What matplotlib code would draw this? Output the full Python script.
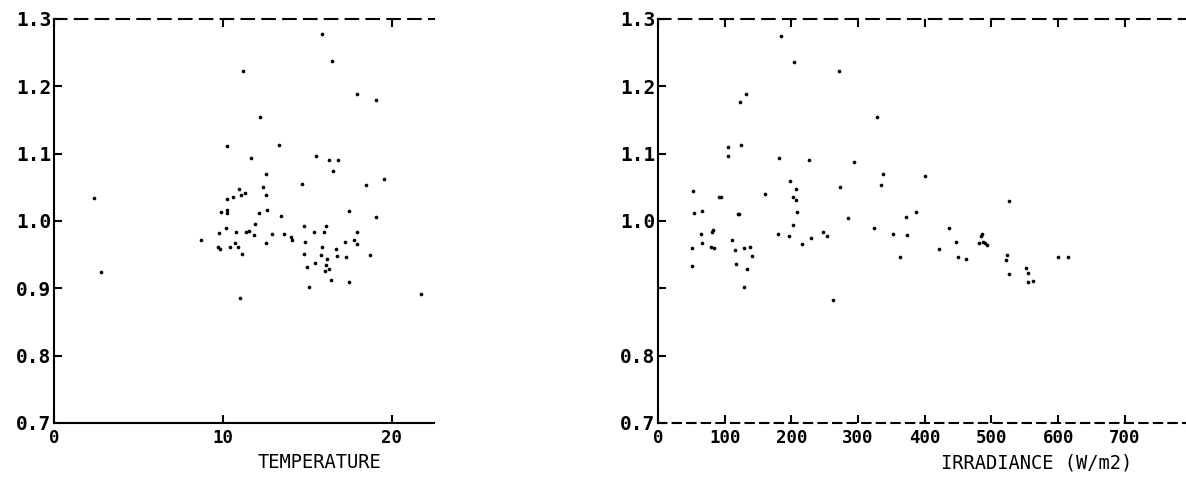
import matplotlib
matplotlib.use("Agg")
import matplotlib.pyplot as plt

# ratio vs temperature (left panel)
temperature = [15.86, 16.45, 11.18, 17.93, 19.05, 12.19, 10.24, 13.31, 2.37, 2.78, 21.72,
               11.67, 15.50, 16.29, 16.79, 16.55, 12.56, 14.69, 18.48, 19.57, 12.38,
               10.96, 12.53, 11.32, 11.08, 10.59, 10.22, 9.92, 10.24, 10.25, 12.13,
               12.60, 13.47, 17.46, 19.09, 11.93, 10.20, 9.75, 10.75, 11.40, 11.54,
               11.83, 12.92, 13.63, 14.02, 14.12, 14.78, 15.37, 15.96, 16.11, 17.95,
               17.24, 17.75, 17.93, 8.72, 9.72, 9.86, 10.43, 10.73, 10.87, 12.56,
               11.11, 14.85, 14.81, 15.86, 15.80, 16.14, 16.70, 16.73, 17.32, 18.74,
               15.48, 14.99, 16.08, 16.31, 16.04, 16.39, 17.44, 15.11, 10.99]
ratio_t = [1.277, 1.237, 1.223, 1.189, 1.179, 1.155, 1.112, 1.113, 1.034, 0.924, 0.892,
           1.094, 1.097, 1.090, 1.091, 1.074, 1.070, 1.055, 1.053, 1.062, 1.050,
           1.047, 1.038, 1.041, 1.038, 1.036, 1.032, 1.014, 1.016, 1.012, 1.012,
           1.017, 1.007, 1.015, 1.006, 0.996, 0.989, 0.982, 0.984, 0.983, 0.985,
           0.979, 0.980, 0.980, 0.976, 0.971, 0.992, 0.983, 0.983, 0.992, 0.983,
           0.969, 0.971, 0.966, 0.972, 0.961, 0.958, 0.962, 0.968, 0.961, 0.967,
           0.951, 0.969, 0.951, 0.961, 0.950, 0.944, 0.959, 0.948, 0.946, 0.949,
           0.937, 0.932, 0.934, 0.929, 0.925, 0.913, 0.910, 0.902, 0.886]

# ratio vs irradiance (right panel)
irradiance = [184.0, 204.3, 271.8, 131.9, 122.9, 328.8, 105.4, 124.0,
              105.4, 181.9, 226.4, 293.4, 337.3, 400.3, 52.0, 91.9, 94.9, 160.9,
              197.9, 206.4, 201.9, 206.4, 208.8, 273.3, 334.8, 525.8, 54.4, 66.4,
              119.5, 121.9, 201.9, 285.3, 371.8, 386.8, 64.9, 66.4, 81.4, 82.9,
              51.0, 79.0, 84.0, 110.9, 115.0, 128.5, 138.4, 140.9, 116.5, 133.0,
              128.9, 51.0, 180.4, 196.0, 215.9, 229.4, 247.8, 253.8, 262.8, 323.4,
              351.9, 372.9, 362.4, 421.3, 436.3, 447.2, 450.2, 462.2, 483.8, 485.8,
              481.7, 486.8, 490.3, 493.7, 522.8, 521.7, 525.8, 551.7, 554.3, 554.3,
              562.2, 600.1, 615.1]
ratio_i = [1.275, 1.236, 1.222, 1.188, 1.177, 1.154, 1.110, 1.113,
           1.096, 1.093, 1.090, 1.087, 1.070, 1.067, 1.045, 1.035, 1.036, 1.040,
           1.060, 1.048, 1.036, 1.031, 1.014, 1.051, 1.053, 1.030, 1.012, 1.015,
           1.011, 1.010, 0.994, 1.004, 1.006, 1.014, 0.980, 0.968, 0.983, 0.986,
           0.960, 0.961, 0.960, 0.971, 0.957, 0.960, 0.962, 0.948, 0.936, 0.928,
           0.902, 0.933, 0.981, 0.978, 0.966, 0.975, 0.984, 0.977, 0.882, 0.990,
           0.980, 0.979, 0.947, 0.958, 0.990, 0.969, 0.946, 0.944, 0.978, 0.980,
           0.968, 0.969, 0.967, 0.964, 0.949, 0.942, 0.921, 0.930, 0.922, 0.909,
           0.911, 0.947, 0.947]

y_ticks = [0.7, 0.8, 0.9, 1.0, 1.1, 1.2, 1.3]
left_ylabels = ["0.7", "0.8", "0.9", "1.0", "1.1", "1.2", "1.3"]
right_ylabels = ["0.7", "0.8", "", "1.0", "1.1", "1.2", "1.3"]
temp_ticks = [0, 10, 20]
temp_labels = ["0", "10", "20"]
irr_ticks = [0, 100, 200, 300, 400, 500, 600, 700, 800]
irr_labels = ["0", "100", "200", "300", "400", "500", "600", "700", ""]

ytick_font = {"family": "DejaVu Sans Mono", "weight": "bold", "size": 14}
xtick_font = {"family": "DejaVu Sans Mono", "weight": "bold", "size": 12.5}
label_font = {"family": "DejaVu Sans Mono", "weight": "normal", "size": 13.5}

fig = plt.figure(figsize=(11.86, 4.8), dpi=100)
ax1 = fig.add_axes([0.0455, 0.1188, 0.3204, 0.8417])
ax2 = fig.add_axes([0.5548, 0.1188, 0.4499, 0.8417])


def style_axes(ax, xticks, xlabels, ylabels):
    ax.set_ylim(0.7, 1.3)
    ax.set_yticks(y_ticks)
    ax.set_yticklabels(ylabels, fontdict=ytick_font)
    ax.set_xticks(xticks)
    ax.set_xticklabels(xlabels, fontdict=xtick_font)
    ax.tick_params(axis="both", direction="in", length=6, width=1.5, color="black")
    ax.tick_params(axis="x", top=True, pad=4)
    ax.tick_params(axis="y", pad=2)
    ax.spines["right"].set_visible(False)
    ax.spines["left"].set_linewidth(1.5)
    ax.spines["bottom"].set_linewidth(1.5)
    ax.spines["top"].set_linewidth(1.5)
    ax.spines["top"].set_linestyle((0, (6, 4)))
    ax.set_facecolor("white")


ax1.scatter(temperature, ratio_t, s=7, color="black", linewidths=0)
ax1.set_xlim(0, 22.5)
style_axes(ax1, temp_ticks, temp_labels, left_ylabels)
ax1.set_xlabel("TEMPERATURE", fontdict=label_font)
ax1.xaxis.set_label_coords(0.70, -0.075)

ax2.scatter(irradiance, ratio_i, s=7, color="black", linewidths=0)
ax2.set_xlim(0, 800)
style_axes(ax2, irr_ticks, irr_labels, right_ylabels)
ax2.spines["bottom"].set_linestyle((0, (4, 3)))
ax2.set_xlabel("IRRADIANCE (W/m2)", fontdict=label_font)
ax2.xaxis.set_label_coords(0.71, -0.075)

fig.savefig("out.png", dpi=100)
